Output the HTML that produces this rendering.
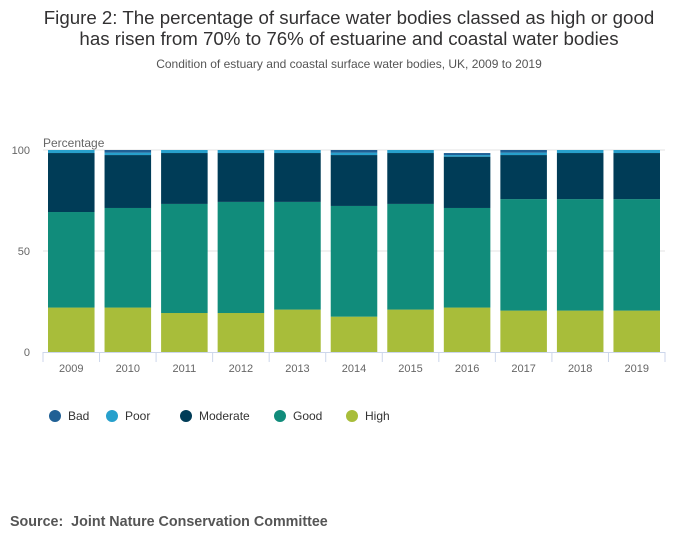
<!DOCTYPE html>
<html><head><meta charset="utf-8"><style>
body{margin:0;background:#fff;font-family:"Liberation Sans",sans-serif;}
#wrap{position:relative;width:700px;height:549px;overflow:hidden;}
</style></head><body>
<div id="wrap">
<svg id="chart" width="700" height="549" xmlns="http://www.w3.org/2000/svg">
<text x="349" y="24" text-anchor="middle" font-size="18.7" fill="#323132">Figure 2: The percentage of surface water bodies classed as high or good</text>
<text x="349" y="45" text-anchor="middle" font-size="18.7" fill="#323132">has risen from 70% to 76% of estuarine and coastal water bodies</text>
<text x="349" y="68" text-anchor="middle" font-size="12" fill="#555">Condition of estuary and coastal surface water bodies, UK, 2009 to 2019</text>
<text x="43" y="147" font-size="12" fill="#666">Percentage</text>
<g id="grid"></g><g id="bars"></g><g id="xaxis"></g><g id="legend"></g>
<text x="10" y="526" font-size="14.3" font-weight="bold" fill="#555">Source:&#160; Joint Nature Conservation Committee</text>
</svg>
</div>
<script>
const categories=["2009","2010","2011","2012","2013","2014","2015","2016","2017","2018","2019"];
const high=[22,22,19.3,19.3,21,17.5,21,22,20.5,20.5,20.5];
const good=[47.3,49.3,54,55,53.3,54.8,52.3,49.3,55.2,55.2,55.2];
const moderate=[29.2,26.2,25.2,24.2,24.2,25.2,25.2,25.4,21.8,22.8,22.8];
const poor=[1.5,1.2,1.5,1.5,1.5,1.2,1.5,0.8,1.2,1.5,1.5];
const bad=[0,1.3,0,0,0,1.3,0,1,1.3,0,0];
const yTicks=[0,50,100];
const seriesNames=["Bad","Poor","Moderate","Good","High"];
const NS="http://www.w3.org/2000/svg";
const x0=43,x1=665,y0=352,y100=150;
const band=(x1-x0)/categories.length;
const y=v=>y0-(y0-y100)*v/100;
const xb=i=>x0+band*i;
function mk(t,a,p){const e=document.createElementNS(NS,t);for(const k in a)e.setAttribute(k,a[k]);p.appendChild(e);return e;}
const grid=document.getElementById('grid');
yTicks.forEach(v=>{
  if(v>0){const l=mk('line',{x1:x0,x2:x1,y1:y(v),y2:y(v),stroke:'#e3e3e3'},grid);
  
  }
  const t=mk('text',{x:30,y:y(v)+4,'text-anchor':'end','font-size':11,fill:'#666'},grid);t.textContent=v;
  
  
});
const series=[["high",high,"#a8bd3a"],["good",good,"#118c7b"],["moderate",moderate,"#003c57"],["poor",poor,"#27a0cc"],["bad",bad,"#206095"]];
const bars=document.getElementById('bars');
categories.forEach((c,i)=>{
  let cum=0;
  series.forEach(([n,arr,col])=>{
    const v=arr[i];if(v<=0)return;
    const r=mk('rect',{x:xb(i)+5,width:band-10,y:y(cum+v),height:y(cum)-y(cum+v),fill:col},bars);
    
    
    cum+=v;
  });
});
const xa=document.getElementById('xaxis');
const ax=mk('line',{x1:x0,x2:x1,y1:y0+0.5,y2:y0+0.5,stroke:'#ccd6eb'},xa);


for(let i=0;i<=categories.length;i++){mk('line',{x1:xb(i),x2:xb(i),y1:y0,y2:y0+10,stroke:'#ccd6eb'},xa);}
categories.forEach((c,i)=>{
  const t=mk('text',{x:xb(i)+band/2,y:y0+20,'text-anchor':'middle','font-size':11,fill:'#666'},xa);t.textContent=c;
  
  
});
const lg=document.getElementById('legend');
const lx=[55,112,186,280,352],lc=["#206095","#27a0cc","#003c57","#118c7b","#a8bd3a"];
seriesNames.forEach((n,i)=>{
  const g=mk('g',{},lg);
  
  
  mk('circle',{cx:lx[i],cy:416,r:6,fill:lc[i]},g);
  const t=mk('text',{x:lx[i]+13,y:420,'font-size':12,fill:'#333'},g);t.textContent=n;
});
</script>
</body></html>
